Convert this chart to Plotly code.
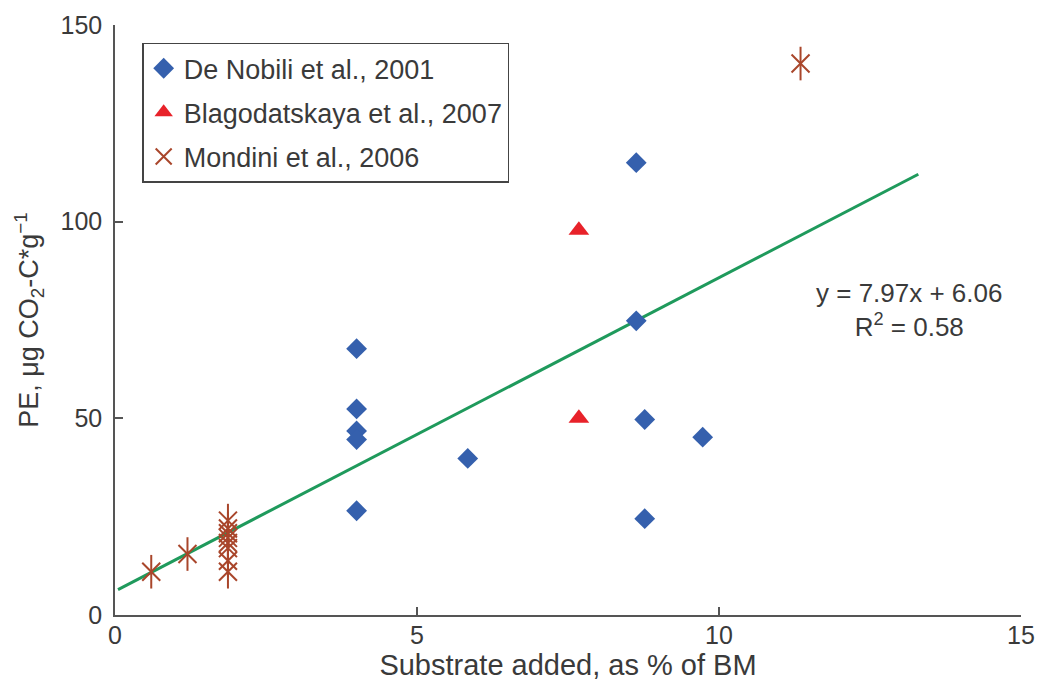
import plotly.graph_objects as go

# --- data ---
denobili_x = [4.0, 4.0, 4.0, 4.0, 4.0, 5.84, 8.63, 8.63, 8.77, 9.73, 8.77]
denobili_y = [67.7, 52.4, 46.8, 44.6, 26.5, 39.8, 115.0, 74.8, 49.7, 45.2, 24.5]

blago_x = [7.68, 7.68]
blago_y = [50.0, 97.8]

mondini_x = [0.6, 1.2, 1.87, 1.87, 1.87, 1.87, 1.87, 1.87, 1.87, 1.87, 11.35]
mondini_y = [11.0, 15.5, 24.0, 22.0, 20.8, 19.6, 18.3, 17.0, 13.8, 11.0, 140.2]

fit_slope = 7.97
fit_intercept = 6.06
fit_x = [0.05, 13.3]
fit_y = [fit_slope * v + fit_intercept for v in fit_x]

x_ticks = [0, 5, 10, 15]
y_ticks = [0, 50, 100, 150]

FONT = "Liberation Sans, Arial, sans-serif"
TXT = "#3a3a3a"
BROWN = "#a9462b"

fig = go.Figure()

fig.add_trace(go.Scatter(
    x=fit_x, y=fit_y, mode="lines",
    line=dict(color="#1f9a5c", width=3), showlegend=False, hoverinfo="skip"))

fig.add_trace(go.Scatter(
    x=denobili_x, y=denobili_y, mode="markers", name="De Nobili et al., 2001",
    marker=dict(symbol="diamond", size=16, color="#3560ad"), legendgroup="a"))

fig.add_trace(go.Scatter(
    x=blago_x, y=blago_y, mode="markers", name="Blagodatskaya et al., 2007",
    marker=dict(symbol="triangle-up", size=18, color="#e8222a"), legendgroup="b"))

fig.add_trace(go.Scatter(
    x=mondini_x, y=mondini_y, mode="markers", name="Mondini et al., 2006",
    marker=dict(symbol="x-thin-open", size=18, color=BROWN,
                line=dict(color=BROWN, width=2)), legendgroup="c"))
fig.add_trace(go.Scatter(
    x=mondini_x, y=mondini_y, mode="markers", showlegend=False,
    marker=dict(symbol="line-ns-open", size=24, color=BROWN,
                line=dict(color=BROWN, width=2)), legendgroup="c"))

fig.add_annotation(
    x=13.15, y=77.5, xref="x", yref="y",
    text="y = 7.97x + 6.06<br>R<sup>2</sup> = 0.58",
    showarrow=False, align="center",
    font=dict(family=FONT, size=26, color=TXT))

axis_common = dict(
    showgrid=False, zeroline=False, showline=True,
    linecolor="#555555", linewidth=1.5,
    ticks="inside", ticklen=8, tickwidth=1.5, tickcolor="#555555",
)

fig.update_xaxes(range=[0, 15], tickvals=x_ticks, ticktext=[str(t) for t in x_ticks],
                 tickfont=dict(family=FONT, size=25, color=TXT),
                 ticklabelstandoff=-3,
                 title=dict(text="Substrate added, as % of BM",
                            font=dict(family=FONT, size=29, color=TXT), standoff=4),
                 **axis_common)
fig.update_yaxes(range=[0, 150], tickvals=y_ticks, ticktext=[str(t) for t in y_ticks],
                 tickfont=dict(family=FONT, size=25, color=TXT),
                 ticklabelstandoff=6,
                 title=dict(text="PE, μg CO<sub>2</sub>-C*g<sup>−1</sup>",
                            font=dict(family=FONT, size=27, color=TXT), standoff=14),
                 **axis_common)

fig.update_layout(
    width=1047, height=688,
    margin=dict(l=115, r=26, t=25, b=73),
    paper_bgcolor="white", plot_bgcolor="white",
    legend=dict(x=0.03, y=0.97, xanchor="left", yanchor="top",
                bordercolor="#444444", borderwidth=1.5, bgcolor="white",
                font=dict(family=FONT, size=27, color=TXT),
                traceorder="grouped", tracegroupgap=6,
                itemsizing="trace", itemwidth=30),
)

fig.write_html("out.html")
